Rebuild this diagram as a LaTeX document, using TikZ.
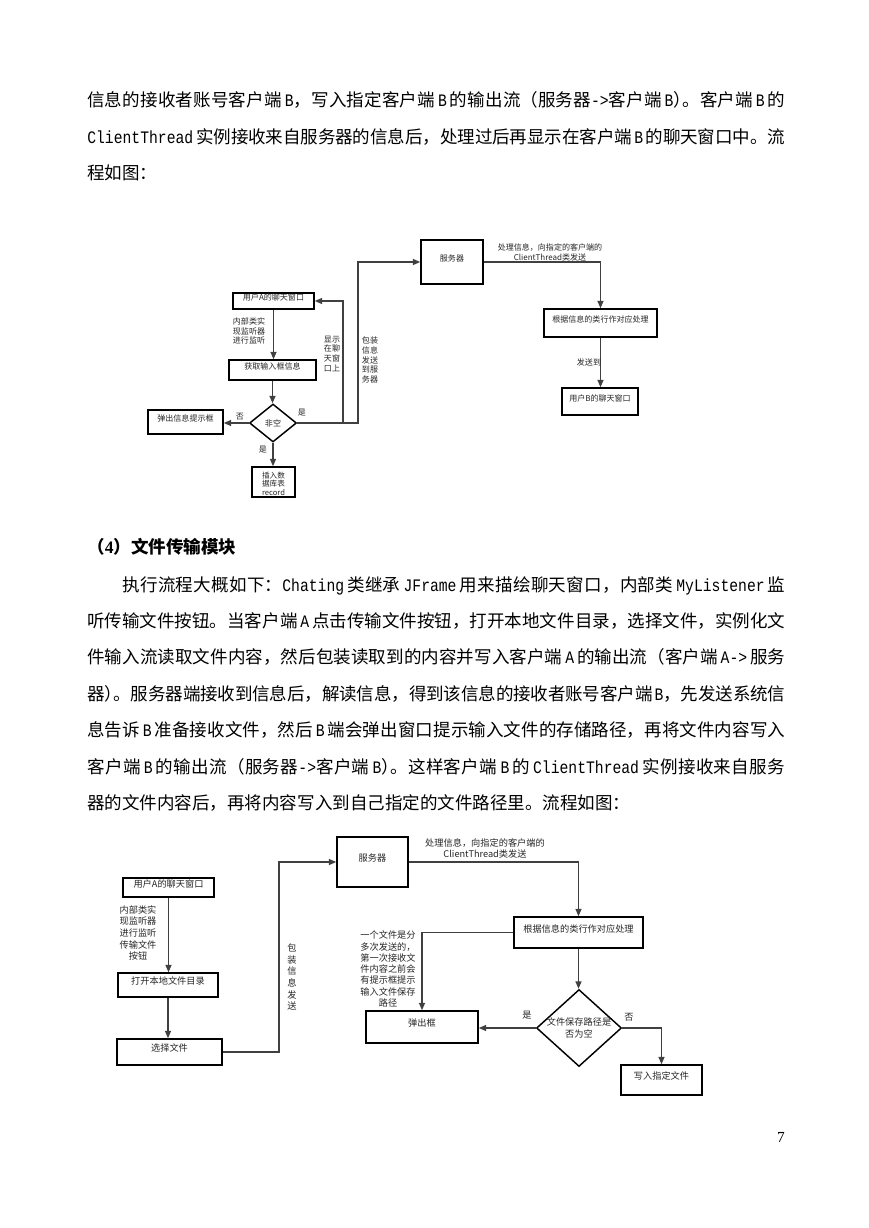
\documentclass[tikz,border=0pt]{standalone}
\usepackage{fontspec}
\setmainfont{Noto Sans CJK SC}
\newfontfamily\enf[FakeStretch=0.84]{Liberation Mono}
\newfontfamily\numf{Liberation Serif}
\usetikzlibrary{arrows.meta,shapes.geometric,fit}
\XeTeXlinebreaklocale "zh"
\XeTeXlinebreakskip=0pt plus 2pt minus 0.2pt
\newdimen\pxu \pxu=0.68502pt
\newcommand\E[1]{\hskip 2pt plus 1pt minus 1pt{\enf #1}\hskip 2pt plus 1pt minus 1pt\relax}
\newcommand\El[1]{\hskip 2pt plus 1pt minus 1pt{\enf #1}}
\newcommand\bodytxt{\fontsize{12}{25}\selectfont}
\tikzset{
  bx/.style={draw=black, line width=1pt, inner sep=0pt, align=center, text=black!85},
  cn/.style={draw=black!75, line width=1pt},
  ar/.style={cn, -{Triangle[length=5pt,width=4pt]}},
  dA/.style={font=\fontsize{5.5}{6.8}\selectfont},
  dB/.style={font=\fontsize{6.3}{8}\selectfont},
  lb/.style={inner sep=0pt, align=center, text=black!85},
}
\begin{document}
\begin{tikzpicture}[x=0.68502pt,y=-0.68502pt]
\useasboundingbox (0,0) rectangle (869,1228);
\fill[white] (0,0) rectangle (869,1228);

% ---------- paragraph 1 ----------
\node[anchor=base west,inner sep=0pt] (para1) at (87,107) {\parbox[t]{698\pxu}{\bodytxt
信息的接收者账号客户端\El{B}，写入指定客户端\E{B}的输出流（服务器{\enf ->}客户端\El{B}）\kern-6pt。客户端\E{B}的\linebreak
{\enf ClientThread}\hskip 2pt plus 1pt 实例接收来自服务器的信息后，处理过后再显示在客户端\E{B}的聊天窗口中。流\linebreak
程如图：}};

% ---------- diagram 1 ----------
\node[bx,dA,fit={(421,240)(483,284)}] (srv1) {服务器};
\node[bx,dA,fit={(544,309)(657,337)}] (proc1) {根据信息的类行作对应处理};
\node[bx,dA,fit={(562,388)(638,415)}] (userB1) {用户B的聊天窗口};
\node[bx,dA,fit={(233,293)(314,309)}] (userA1) {用户A的聊天窗口};
\node[bx,dA,fit={(229,360)(316,380)}] (get1) {获取输入框信息};
\node[bx,dA,diamond,minimum width=47\pxu,minimum height=38\pxu] (dia1) at (273,423) {非空};
\node[bx,dA,fit={(148,410)(223,434)}] (pop1) {弹出信息提示框};
\node[bx,fit={(252,467)(295,497)},
      label={[lb,font=\fontsize{5.2}{5.9}\selectfont,yshift=-1.2pt]center:插入数\\据库表\\record}] (rec1) {};
\coordinate (j1) at (343,423);
\coordinate (j2) at (358,423);

\draw[ar] (srv1.east) -| (proc1.north);
\draw[ar] (proc1.south) -- (proc1.south |- userB1.north);
\draw[ar] (userA1.south) -- (userA1.south |- get1.north);
\draw[ar] (get1.south) -- (get1.south |- dia1.north);
\draw[ar] (dia1.west) -- (pop1.east |- dia1.west);
\draw[ar] (dia1.south) -- (dia1.south |- rec1.north);
\draw[ar] (dia1.east) -- (j1) |- (userA1.east);
\draw[ar] (j1) -- (j2) |- (srv1.west);

\node[lb,dA] (t1a) at (550,252) {处理信息，向指定的客户端的\\ClientThread类发送};
\node[lb,dA] (t1b) at (589,362) {发送到};
\node[lb,dA] (t1c) at (249,331) {内部类实\\现监听器\\进行监听};
\node[lb,dA] (t1d) at (332,354) {显示\\在聊\\天窗\\口上};
\node[lb,dA] (t1e) at (370,360) {包装\\信息\\发送\\到服\\务器};
\node[lb,dA] (t1f) at (240,417) {否};
\node[lb,dA] (t1g) at (302,413) {是};
\node[lb,dA] (t1h) at (263,450) {是};

% ---------- heading + paragraph 2 ----------
\node[anchor=base west,inner sep=0pt] (head) at (87,553) {\fontsize{12}{12}\selectfont\bfseries （{\numf 4}）文件传输模块};
\node[anchor=base west,inner sep=0pt] (para2) at (87,591) {\parbox[t]{698\pxu}{\bodytxt
\hspace*{24pt}执行流程大概如下：{\enf Chating}\hskip 2pt plus 1pt 类继承\E{JFrame}用来描绘聊天窗口，内部类\E{MyListener}监\linebreak
听传输文件按钮。当客户端\E{A}点击传输文件按钮，打开本地文件目录，选择文件，实例化文\linebreak
件输入流读取文件内容，然后包装读取到的内容并写入客户端\E{A}的输出流（客户端\E{A->}服务\linebreak
器）\kern-6pt。服务器端接收到信息后，解读信息，得到该信息的接收者账号客户端\El{B}，先发送系统信\linebreak
息告诉\E{B}准备接收文件，然后\E{B}端会弹出窗口提示输入文件的存储路径，再将文件内容写入\linebreak
客户端\E{B}的输出流（服务器{\enf ->}客户端\El{B}）\kern-6pt。这样客户端\E{B}的\E{ClientThread}实例接收来自服务\linebreak
器的文件内容后，再将内容写入到自己指定的文件路径里。流程如图：}};

% ---------- diagram 2 ----------
\node[bx,dB,fit={(337,837)(408,887)}] (srv2) {服务器};
\node[bx,dB,fit={(123,878)(214,897)}] (userA2) {用户A的聊天窗口};
\node[bx,dB,fit={(118,973)(218,997)}] (open2) {打开本地文件目录};
\node[bx,dB,fit={(117,1039)(222,1065)}] (sel2) {选择文件};
\node[bx,dB,fit={(514,917)(643,948)}] (proc2) {根据信息的类行作对应处理};
\node[bx,dB,fit={(366,1011)(478,1043)}] (pop2) {弹出框};
\node[bx,dB,diamond,minimum width=85\pxu,minimum height=77\pxu,
      label={[lb,dB]center:文件保存路径是\\否为空}] (dia2) at (579,1028) {};
\node[bx,dB,fit={(621,1065)(702,1095)}] (write2) {写入指定文件};
\coordinate (k1) at (279,1052);

\draw[ar] (userA2.south) -- (userA2.south |- open2.north);
\draw[ar] (open2.south) -- (open2.south |- sel2.north);
\draw[ar] (sel2.east) -- (k1) |- (srv2.west);
\draw[ar] (srv2.east) -| (proc2.north);
\draw[ar] (proc2.west) -| (pop2.north);
\draw[ar] (proc2.south) -- (proc2.south |- dia2.north);
\draw[ar] (dia2.west) -- (pop2.east |- dia2.west);
\draw[ar] (dia2.east) -| (write2.north);

\node[lb,dB] (t2a) at (485,848.5) {处理信息，向指定的客户端的\\ClientThread类发送};
\node[lb,dB] (t2b) at (138,933) {内部类实\\现监听器\\进行监听\\传输文件\\按钮};
\node[lb,dB] (t2c) at (292,977) {包\\装\\信\\息\\发\\送};
\node[lb,dB,font=\fontsize{6.3}{7.7}\selectfont] (t2d) at (388,969) {一个文件是分\\多次发送的，\\第一次接收文\\件内容之前会\\有提示框提示\\输入文件保存\\路径};
\node[lb,dB] (t2e) at (527,1015) {是};
\node[lb,dB] (t2f) at (629,1017) {否};

% ---------- page number ----------
\node[anchor=base east,inner sep=0pt] (pgno) at (785,1142) {\fontsize{10.5}{12}\selectfont\numf 7};
\end{tikzpicture}
\end{document}
